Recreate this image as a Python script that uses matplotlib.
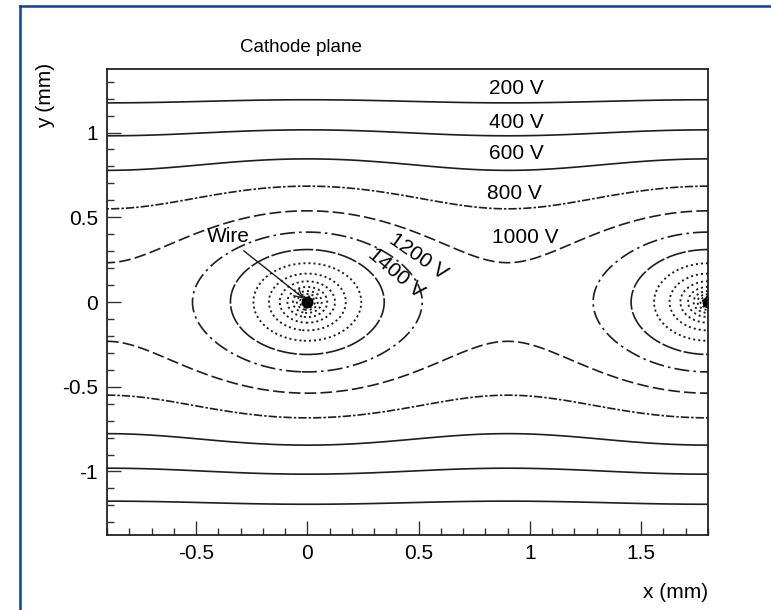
import numpy as np
import matplotlib.pyplot as plt
from matplotlib.lines import Line2D
from matplotlib.ticker import MultipleLocator, FormatStrFormatter

plt.rcParams['font.family'] = ['Liberation Sans', 'DejaVu Sans']
plt.rcParams['axes.unicode_minus'] = False

# === Geometrie =========================================================
pitch = 1.8          # mm, Drahtabstand
half_gap = 1.37      # mm, Abstand Draht - Kathode
field_const = 309.0  # V, lambda/(4 pi eps0)
wire_x = [0.0, 1.8]
wire_y = [0.0, 0.0]

x_range = [-0.9, 1.8]
y_range = [-1.375, 1.375]

# Konturwerte und Linienstile
levels = [200, 400, 600, 800, 1000, 1200, 1400, 1600, 1800, 2000,
          2200, 2400, 2600, 2800, 3000]
styles = ['-', '-', '-', (0, (5, 1.2, 1.5, 1.2)), (0, (7, 2.5)),
          (0, (9, 2.5, 1.5, 2.5)), (0, (12, 1.5))] + [(0, (1.1, 1.6))] * 8
widths = [1.2] * 7 + [1.35] * 8

# Beschriftungen
label_text = ['200 V', '400 V', '600 V', '800 V', '1000 V', '1200 V', '1400 V']
label_x = [0.94, 0.94, 0.94, 0.93, 0.98, 0.50, 0.40]
label_y = [1.262, 1.062, 0.878, 0.64, 0.38, 0.27, 0.17]
label_rot = [0, 0, 0, 0, 0, -35, -40]

# === Potential einer Drahtebene zwischen zwei Kathoden ==================
x = np.linspace(x_range[0], x_range[1], 1500)
y = np.linspace(y_range[0], y_range[1], 1500)
X, Y = np.meshgrid(x, y)
arg = 4 * (np.sin(np.pi * X / pitch)**2 + np.sinh(np.pi * Y / pitch)**2)
V = field_const * (2 * np.pi * half_gap / pitch - np.log(np.maximum(arg, 1e-12)))

# === Layout =============================================================
fig = plt.figure(figsize=(7.71, 6.10), dpi=100)
ax = fig.add_axes([107/771, 1 - 535/610, (708 - 107)/771, (535 - 69)/610])

for lev, ls, lw in zip(levels, styles, widths):
    ax.contour(X, Y, V, levels=[lev], colors='#1e1e1e', linewidths=lw,
               linestyles=[ls])

ax.plot(wire_x, wire_y, 'o', color='black', markersize=7.5, clip_on=True)

for t, lx, ly, r in zip(label_text, label_x, label_y, label_rot):
    ax.text(lx, ly, t, fontsize=15, ha='center', va='center', rotation=r,
            rotation_mode='anchor')

ax.annotate('Wire', xy=(-0.015, 0.02), xytext=(-0.45, 0.385),
            fontsize=15, ha='left', va='center',
            arrowprops=dict(arrowstyle='->', color='#1e1e1e', lw=1.0,
                            relpos=(0.72, 0.0), shrinkA=2, shrinkB=0))

ax.set_xlim(x_range)
ax.set_ylim(y_range)
ax.xaxis.set_major_locator(MultipleLocator(0.5))
ax.xaxis.set_minor_locator(MultipleLocator(0.1))
ax.yaxis.set_major_locator(MultipleLocator(0.5))
ax.yaxis.set_minor_locator(MultipleLocator(0.1))
ax.xaxis.set_major_formatter(FormatStrFormatter('%g'))
ax.yaxis.set_major_formatter(FormatStrFormatter('%g'))
ax.tick_params(which='both', direction='in', top=False, right=False,
               labelsize=15, width=1.0, pad=6.5, color='#333333')
ax.tick_params(which='major', length=10)
ax.tick_params(which='minor', length=5)
for sp in ax.spines.values():
    sp.set_linewidth(1.3)
    sp.set_color('#222222')

fig.text(301/771, 1 - 48/610, 'Cathode plane', fontsize=13.5, ha='center', va='center')
fig.text(708/771, 1 - 593/610, 'x (mm)', fontsize=15, ha='right', va='center')
fig.text(46/771, 1 - 63/610, 'y (mm)', fontsize=15, rotation=90, ha='center', va='top')

# blauer Rahmen
fig.add_artist(Line2D([20/771, 20/771], [0, 1 - 6/610], color='#0b3fae', lw=1.8))
fig.add_artist(Line2D([20/771, 1], [1 - 6/610, 1 - 6/610], color='#0b3fae', lw=1.8))

fig.savefig('out.png', dpi=100)
